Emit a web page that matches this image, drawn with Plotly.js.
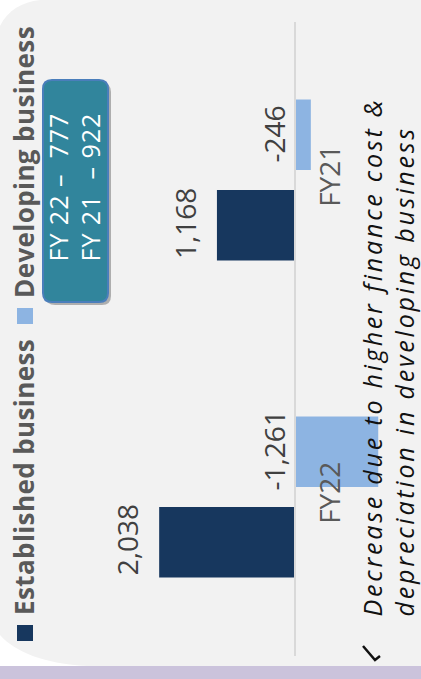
<!DOCTYPE html>
<html><head><meta charset="utf-8">
<script src="https://cdn.plot.ly/plotly-3.0.1.min.js"></script>
<style>html,body{margin:0;padding:0;background:#fff;}#chart{width:421px;height:679px;}</style>
</head><body><div id="chart"></div>
<script>
// ---- data ----
const categories = ['FY22', 'FY21'];
const seriesNames = ['Established business', 'Developing business'];
const established = [2038, 1168];
const developing = [-1261, -246];
const boxLines = ['FY 22 –  777', 'FY 21  – 922'];
const noteLines = ['Decrease due to higher finance cost &', 'depreciation in developing business'];

// ---- styling / layout helpers ----
const W = 421, H = 679;
const px = x => x / W;
const py = y => 1 - y / H;
const colors = ['#17375e', '#8db4e2'];
const FONT = 'Open Sans, sans-serif';
const seriesVals = [established, developing];
const spaced = (s, ls) => '<span style="letter-spacing:' + ls + 'px">' + s + '</span>';

const traces = seriesVals.map((vals, i) => ({
  type: 'bar', orientation: 'h', name: seriesNames[i],
  x: vals, y: categories, marker: { color: colors[i] },
  hoverinfo: 'skip', showlegend: false
}));

const annotations = [];
const groupShift = [-43, 46];
seriesVals.forEach((vals, i) => {
  vals.forEach((v, j) => {
    annotations.push({
      xref: 'x', yref: 'y', x: v >= 0 ? v : 0, y: categories[j],
      xshift: v >= 0 ? -32 : -21, yshift: groupShift[i],
      text: v.toLocaleString('en-US'), textangle: -90, showarrow: false,
      xanchor: 'center', yanchor: 'middle',
      font: { family: FONT, size: 28, color: '#404040' }
    });
  });
});

// legend (rotated)
const legendTextStart = [617, 300];
const legendSquareTop = [625, 308];
const shapes = [];
// background panel with rounded left corners
shapes.push({
  type: 'path', xref: 'paper', yref: 'paper', layer: 'below',
  path: `M ${px(40)},${py(0)} L ${px(421)},${py(0)} L ${px(421)},${py(666)} L ${px(87)},${py(666)} ` +
        `C ${px(45)},${py(664)} ${px(15)},${py(652)} ${px(0)},${py(635)} L ${px(0)},${py(26)} ` +
        `C ${px(8)},${py(10)} ${px(22)},${py(2)} ${px(40)},${py(0)} Z`,
  fillcolor: '#f2f2f2', line: { width: 0 }
});
shapes.push({ type: 'rect', xref: 'paper', yref: 'paper', layer: 'below',
  x0: 0, x1: 1, y0: py(679), y1: py(666), fillcolor: '#cbc3dc', line: { width: 0 } });

seriesNames.forEach((n, i) => {
  shapes.push({ type: 'rect', xref: 'paper', yref: 'paper',
    x0: px(17), x1: px(33), y0: py(legendSquareTop[i] + 16), y1: py(legendSquareTop[i]),
    fillcolor: colors[i], line: { width: 0 } });
  annotations.push({
    xref: 'paper', yref: 'paper', x: px(24), y: py(legendTextStart[i]),
    xanchor: 'center', yanchor: 'bottom', textangle: -90, showarrow: false,
    text: '<b>' + spaced(n, 0.4) + '</b>', font: { family: FONT, size: 26, color: '#595959' }
  });
});

// teal callout box with rounded corners
function roundRect(x0, y0, x1, y1, r) {
  return `M ${px(x0 + r)},${py(y0)} L ${px(x1 - r)},${py(y0)} Q ${px(x1)},${py(y0)} ${px(x1)},${py(y0 + r)} ` +
         `L ${px(x1)},${py(y1 - r)} Q ${px(x1)},${py(y1)} ${px(x1 - r)},${py(y1)} ` +
         `L ${px(x0 + r)},${py(y1)} Q ${px(x0)},${py(y1)} ${px(x0)},${py(y1 - r)} ` +
         `L ${px(x0)},${py(y0 + r)} Q ${px(x0)},${py(y0)} ${px(x0 + r)},${py(y0)} Z`;
}
shapes.push({ type: 'path', xref: 'paper', yref: 'paper', path: roundRect(46, 83, 111, 305, 9),
  fillcolor: 'rgba(0,0,0,0.28)', line: { width: 0 } });
shapes.push({ type: 'path', xref: 'paper', yref: 'paper', path: roundRect(43, 80, 108, 302, 9),
  fillcolor: '#31859c', line: { color: '#4a7ebb', width: 2 } });
annotations.push({
  xref: 'paper', yref: 'paper', x: px(74), y: py(264), xanchor: 'center', yanchor: 'bottom',
  textangle: -90, showarrow: false, align: 'left',
  text: boxLines.map(s => spaced(s, 1)).join('<br>'), font: { family: FONT, size: 25, color: '#ffffff' }
});

// note with check mark
annotations.push({
  xref: 'paper', yref: 'paper', x: px(388), y: py(619), xanchor: 'center', yanchor: 'bottom',
  textangle: -90, showarrow: false, align: 'left',
  text: noteLines.map(s => '<i>' + spaced(s, 2.8) + '</i>').join('<br>'),
  font: { family: FONT, size: 25, color: '#111111' }
});
shapes.push({ type: 'path', xref: 'paper', yref: 'paper',
  path: `M ${px(363)},${py(646)} L ${px(375)},${py(660)} L ${px(380)},${py(656)}`,
  line: { color: '#111111', width: 2.5 } });

const layout = {
  width: W, height: H,
  margin: { l: 0, r: 0, t: 0, b: 0, pad: 0 },
  paper_bgcolor: '#ffffff', plot_bgcolor: 'rgba(0,0,0,0)',
  barmode: 'group', bargap: 0.43, bargroupgap: 0.22,
  showlegend: false,
  xaxis: { domain: [0, 1], range: [4435, -1905], autorange: false,
    showticklabels: false, showgrid: false, zeroline: false, showline: false, ticks: '' },
  yaxis: { type: 'category', range: [-0.5, 1.5], autorange: false,
    domain: [1 - 655.5 / H, 1 - 21.5 / H], anchor: 'free', position: 294.5 / W, side: 'right',
    showline: true, linecolor: '#d9d9d9', linewidth: 2.5, showgrid: false, zeroline: false,
    ticks: '', tickangle: -90, ticklabelstandoff: 10,
    tickfont: { family: FONT, size: 28, color: '#595959' } },
  annotations: annotations, shapes: shapes
};
Plotly.newPlot('chart', traces, layout, { displayModeBar: false, staticPlot: true });
</script></body></html>
